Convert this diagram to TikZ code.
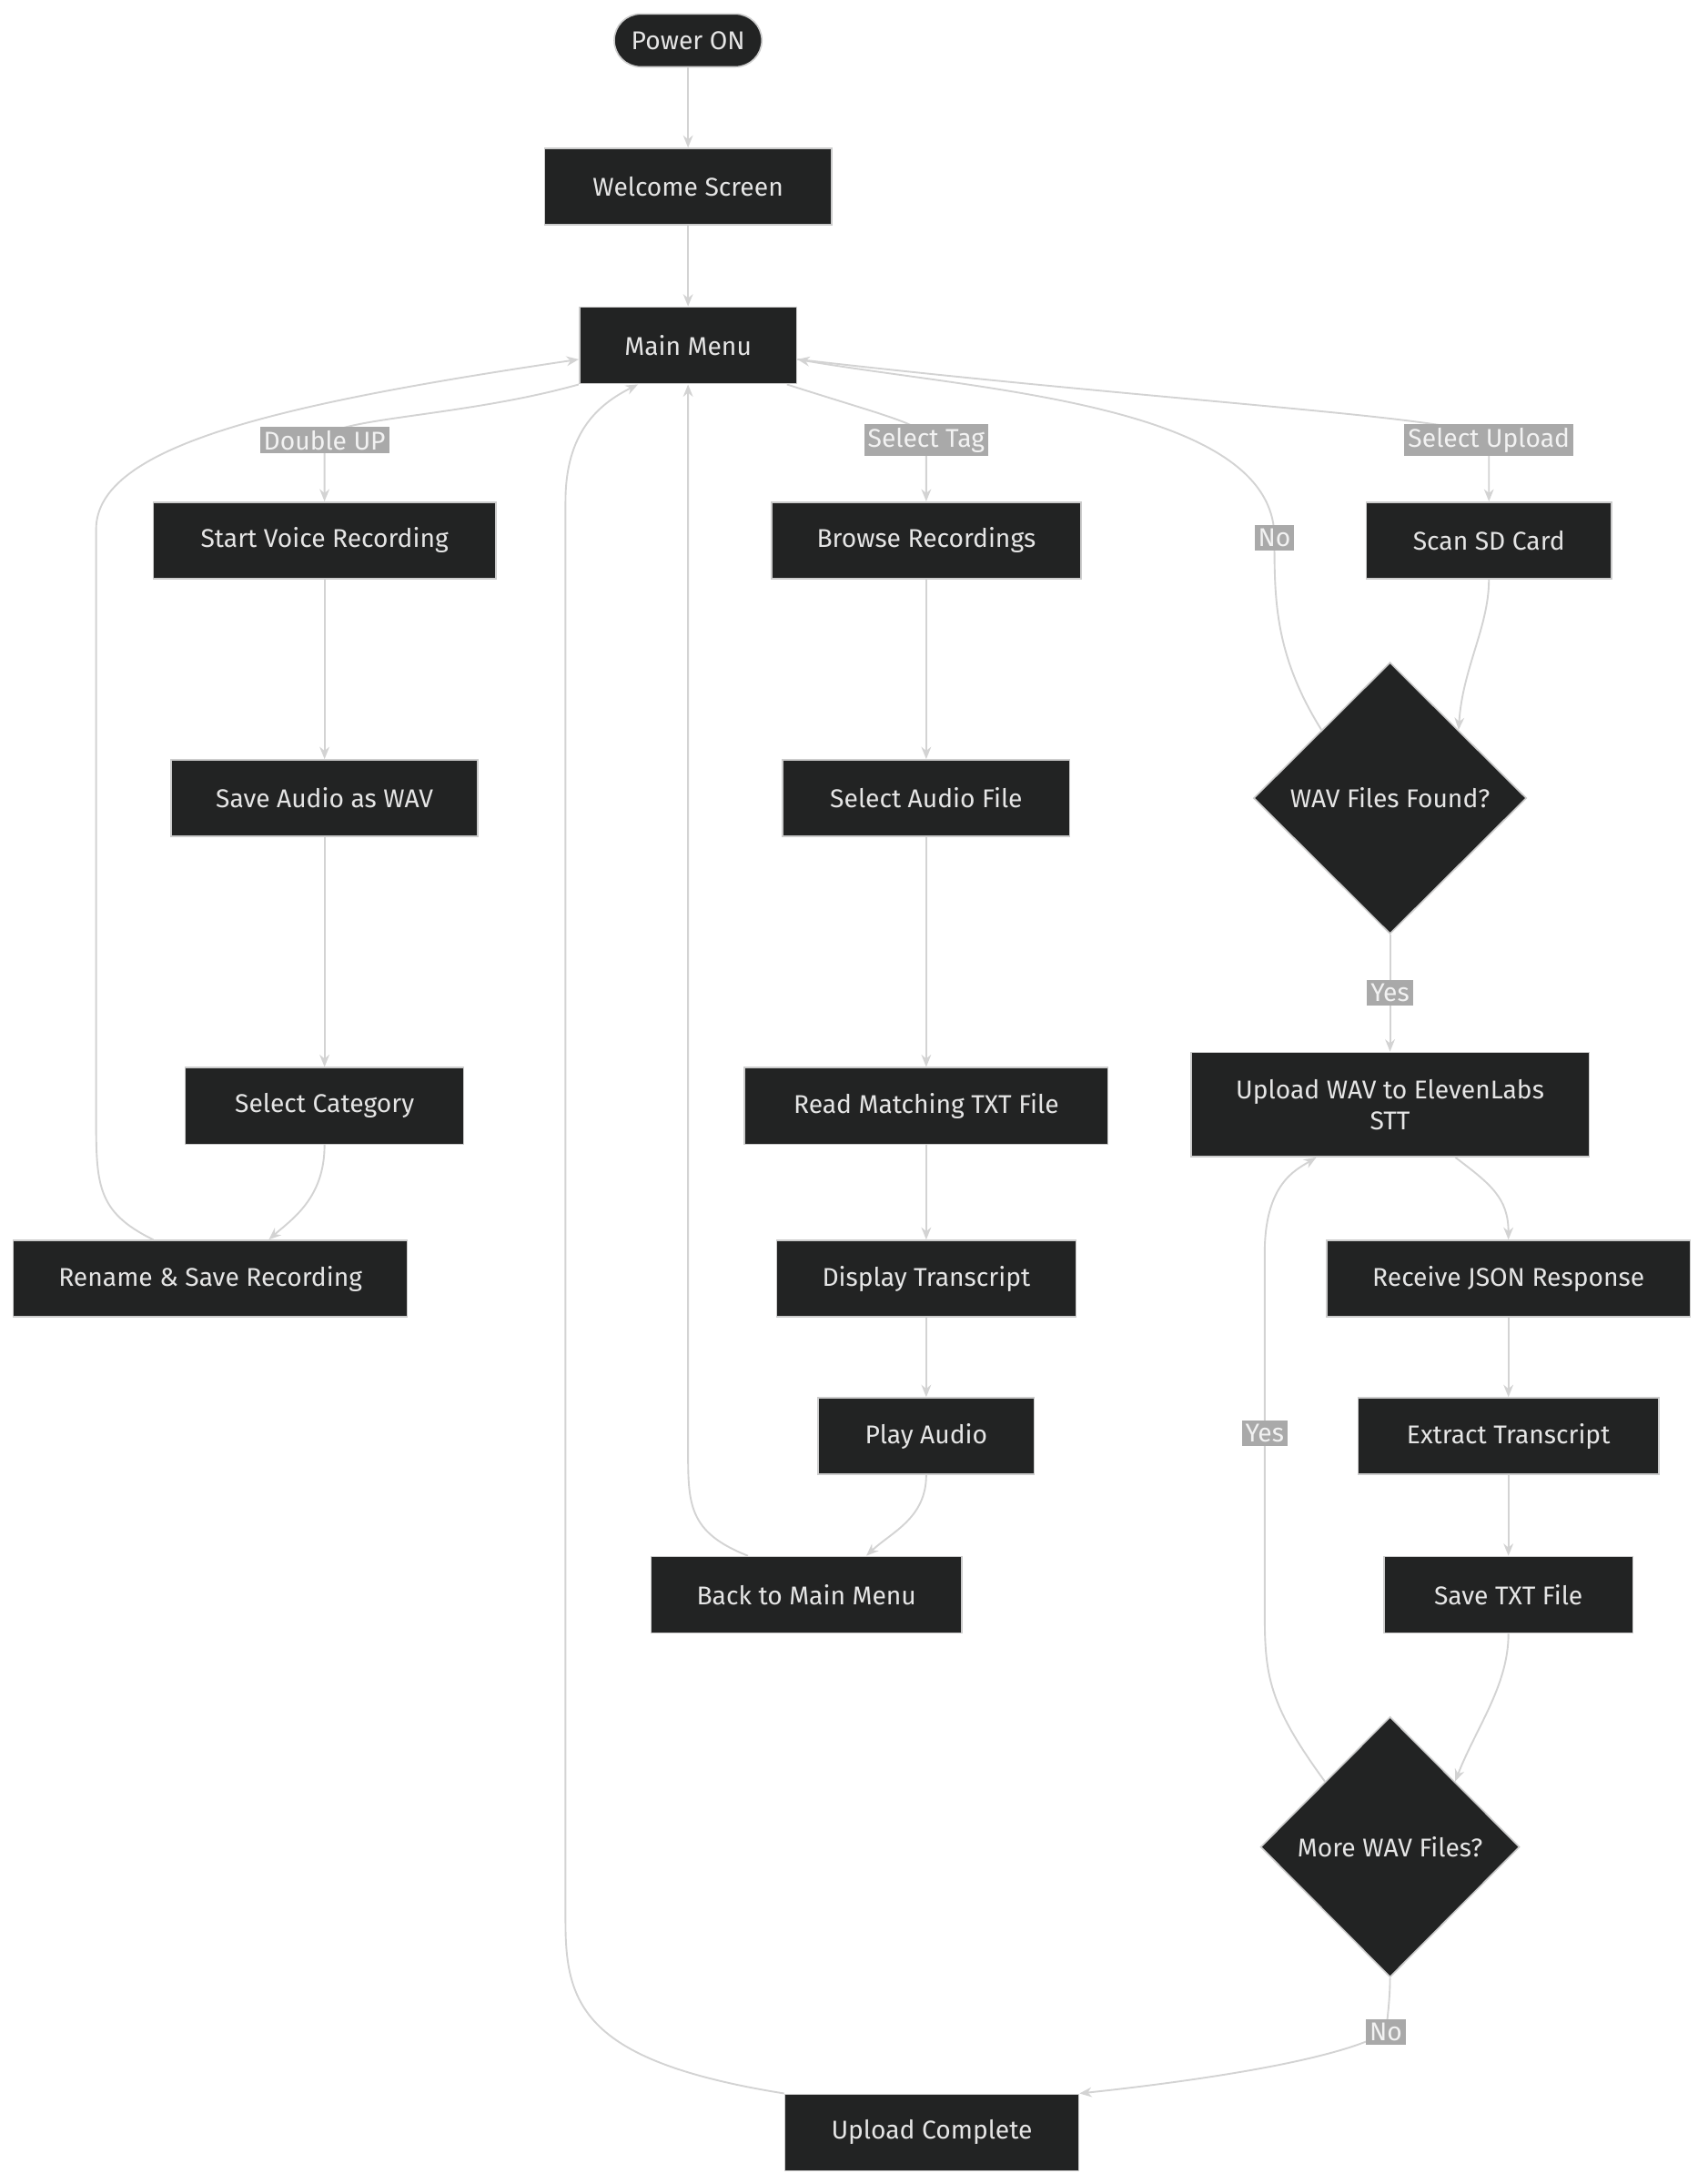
\documentclass[tikz,border=0pt]{standalone}
\usepackage{fontspec}
\setmainfont{Fira Sans}
\usepackage{tikz}
\usetikzlibrary{shapes.geometric, arrows.meta}
\definecolor{boxfill}{HTML}{222323}
\definecolor{boxline}{HTML}{CCCCCC}
\definecolor{edgecol}{HTML}{D3D3D3}
\definecolor{labfill}{HTML}{A9A9A9}
\tikzset{
  box/.style={draw=boxline, fill=boxfill, text=white!90!black, line width=0.6pt,
    minimum height=1.1cm, inner sep=2pt, align=center, font=\fontsize{10.5}{12.5}\selectfont},
  term/.style={box, rounded corners=0.38cm, minimum height=0.76cm},
  choice/.style={box, diamond, inner sep=0pt},
  flow/.style={draw=edgecol, line width=0.7pt, -{Stealth[length=5pt,width=4pt]}},
  lab/.style={fill=labfill, text=white!85!labfill, inner sep=1.5pt, font=\fontsize{10.5}{12}\selectfont}
}
\begin{document}
\begin{tikzpicture}[x=0.02cm, y=-0.02cm]
  \fill[white] (0,0) rectangle (1226,1568);
  \useasboundingbox (0,0) rectangle (1226,1568);
  % nodes
  \node[term, minimum width=2.12cm] (power) at (494,29) {Power ON};
  \node[box, minimum width=4.12cm] (welcome) at (494,134) {Welcome Screen};
  \node[box, minimum width=3.12cm] (menu) at (494,248) {Main Menu};
  \node[box, minimum width=4.92cm] (record) at (233,388) {Start Voice Recording};
  \node[box, minimum width=4.4cm] (savewav) at (233,573) {Save Audio as WAV};
  \node[box, minimum width=4cm] (category) at (233,794) {Select Category};
  \node[box, minimum width=5.66cm] (rename) at (151,918) {Rename \& Save Recording};
  \node[box, minimum width=4.44cm] (browse) at (665,388) {Browse Recordings};
  \node[box, minimum width=4.12cm] (selfile) at (665,573) {Select Audio File};
  \node[box, minimum width=5.22cm] (readtxt) at (665,794) {Read Matching TXT File};
  \node[box, minimum width=4.3cm] (display) at (665,918) {Display Transcript};
  \node[box, minimum width=3.1cm] (play) at (665,1031) {Play Audio};
  \node[box, minimum width=4.46cm] (back) at (579,1145) {Back to Main Menu};
  \node[box, minimum width=3.52cm] (scan) at (1069,388) {Scan SD Card};
  \node[choice, minimum width=3.92cm, minimum height=3.9cm] (found) at (998,573) {WAV Files Found?};
  \node[box, minimum width=5.72cm, minimum height=1.5cm] (upload) at (998,793) {Upload WAV to ElevenLabs\\STT};
  \node[box, minimum width=5.22cm] (json) at (1083,918) {Receive JSON Response};
  \node[box, minimum width=4.32cm] (extract) at (1083,1031) {Extract Transcript};
  \node[box, minimum width=3.58cm] (savetxt) at (1083,1145) {Save TXT File};
  \node[choice, minimum width=3.72cm, minimum height=3.74cm] (more) at (998,1326) {More WAV Files?};
  \node[box, minimum width=4.22cm] (done) at (669,1531) {Upload Complete};
  % connectors
  \draw[flow] (browse) -- (selfile);
  \draw[flow] (selfile) -- (readtxt);
  \draw[flow] (readtxt) -- (display);
  \draw[flow] (display) -- (play);
  \draw[flow] (play.south) .. controls (665,1090) and (640,1100) .. (back.north -| 622,0);
  \draw[flow] (back.north -| 537,0) .. controls (494,1100) and (494,1080) .. (494,1040) -- (menu.south);
  \draw[flow] (power) -- (welcome);
  \draw[flow] (welcome) -- (menu);
  \draw[flow] (menu.south west) .. controls (330,300) and (233,300) .. (233,316) node[lab]{Double UP} -- (record.north);
  \draw[flow] (record) -- (savewav);
  \draw[flow] (savewav) -- (category);
  \draw[flow] (category.south) .. controls (233,860) and (210,875) .. (rename.north -| 193,0);
  \draw[flow] (rename.north -| 110,0) .. controls (69,870) and (69,850) .. (69,800) -- (69,380)
    .. controls (69,320) and (200,290) .. ([yshift=-0.2cm]menu.west);
  \draw[flow] (menu.south east -| 565,0) .. controls (640,300) and (665,305) .. (665,316) node[lab]{Select Tag} -- (browse.north);
  \draw[flow] ([yshift=-0.2cm]menu.east) .. controls (850,290) and (1069,300) .. (1069,316) node[lab]{Select Upload} -- (scan.north);
  \draw[flow] (scan.south) .. controls (1069,450) and (1050,480) .. (found.north east);
  \draw[flow] (found.north west) .. controls (915,470) and (915,430) .. (915,386) node[lab]{No}
    .. controls (915,290) and (700,280) .. ([yshift=-0.2cm]menu.east);
  \draw[flow] (found.south) -- node[lab]{Yes} (upload.north);
  \draw[flow] (upload.south east -| 1045,0) .. controls (1070,850) and (1083,860) .. (json.north);
  \draw[flow] (json) -- (extract);
  \draw[flow] (extract) -- (savetxt);
  \draw[flow] (savetxt.south) .. controls (1083,1210) and (1060,1240) .. (more.north east);
  \draw[flow] (more.north west) .. controls (908,1220) and (908,1200) .. (908,1150) -- (908,1029) node[lab]{Yes} -- (908,900)
    .. controls (908,850) and (930,840) .. (upload.south -| 945,0);
  \draw[flow] (more.south) .. controls (998,1435) and (996,1450) .. (995,1459) node[lab]{No}
    .. controls (960,1480) and (850,1495) .. (done.north east);
  \draw[flow] (done.north west) .. controls (420,1480) and (406,1440) .. (406,1380) -- (406,360)
    .. controls (406,310) and (430,290) .. (menu.south -| 458,0);
\end{tikzpicture}
\end{document}
